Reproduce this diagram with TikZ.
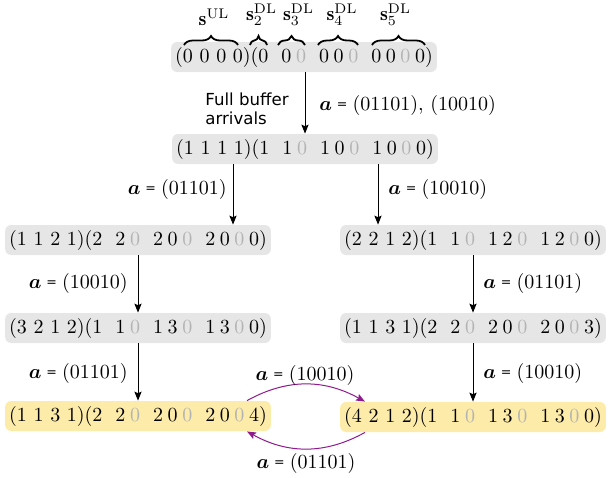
\documentclass[tikz,border=0pt]{standalone}
\usepackage{amsmath,bm}
\usepackage{fontspec}
\newfontfamily\dv{DejaVu Sans}
\usetikzlibrary{arrows.meta,decorations.pathreplacing,calc}
\definecolor{boxgray}{HTML}{E6E6E6}
\definecolor{boxyel}{HTML}{FDEBA9}
\definecolor{zgray}{HTML}{B3B3B3}
\definecolor{purp}{HTML}{8E1A8E}
\newcommand\gz{\textcolor{zgray}{0}}
\newcommand\ks{\hspace{2.3pt}}
\newcommand\kg{\hspace{6.5pt}}
\newcommand\av[1]{$\bm{a}$\hspace{2.4pt}\raisebox{0.6pt}{\dv\fontsize{6.3}{8}\selectfont =}\hspace{2.6pt}#1}
\tikzset{
  state/.style={fill=boxgray, rounded corners=3pt, inner xsep=2pt, inner ysep=2.5pt},
  ystate/.style={state, fill=boxyel},
  arr/.style={-{Stealth[length=4.5pt,width=3.6pt,inset=0.8pt]}, line width=0.5pt},
  parr/.style={arr, draw=purp, line width=0.5pt},
  lab/.style={inner sep=1pt},
  blab/.style={inner sep=0pt, anchor=south},
  brc/.style={decorate, decoration={brace, amplitude=4.5pt}, line width=0.9pt},
}
\begin{document}
\begin{tikzpicture}[x=0.5pt, y=-0.5pt]
\useasboundingbox (0,0) rectangle (608,477);
% states
\node[state] (n1) at (304,57) {(0 0 0 0)(0\kg 0\ks\gz\kg 0\ks 0\ks\gz\kg 0\ks 0\ks\gz\ks 0)};
\node[state] (n2) at (305,149) {(1 1 1 1)(1\kg 1\ks\gz\kg 1\ks 0\ks\gz\kg 1\ks 0\ks\gz\ks 0)};
\node[state] (n3) at (138,240) {(1 1 2 1)(2\kg 2\ks\gz\kg 2\ks 0\ks\gz\kg 2\ks 0\ks\gz\ks 0)};
\node[state] (n4) at (473,240) {(2 2 1 2)(1\kg 1\ks\gz\kg 1\ks 2\ks\gz\kg 1\ks 2\ks\gz\ks 0)};
\node[state] (n5) at (138,328) {(3 2 1 2)(1\kg 1\ks\gz\kg 1\ks 3\ks\gz\kg 1\ks 3\ks\gz\ks 0)};
\node[state] (n6) at (473,328) {(1 1 3 1)(2\kg 2\ks\gz\kg 2\ks 0\ks\gz\kg 2\ks 0\ks\gz\ks 3)};
\node[ystate] (n7) at (138,416) {(1 1 3 1)(2\kg 2\ks\gz\kg 2\ks 0\ks\gz\kg 2\ks 0\ks\gz\ks 4)};
\node[ystate] (n8) at (473,417) {(4 2 1 2)(1\kg 1\ks\gz\kg 1\ks 3\ks\gz\kg 1\ks 3\ks\gz\ks 0)};
% braces
\coordinate (b1a) at (184,45); \coordinate (b1b) at (238,45);
\coordinate (b2a) at (250,45); \coordinate (b2b) at (267,45);
\coordinate (b3a) at (278,45); \coordinate (b3b) at (305,45);
\coordinate (b4a) at (318,45); \coordinate (b4b) at (358,45);
\coordinate (b5a) at (372,45); \coordinate (b5b) at (425,45);
\draw[brc] (b1a) -- (b1b);
\draw[brc] (b2a) -- (b2b);
\draw[brc] (b3a) -- (b3b);
\draw[brc] (b4a) -- (b4b);
\draw[brc] (b5a) -- (b5b);
\node[blab] (l1) at ($(b1a)!0.5!(b1b)+(3,-19)$) {$\mathbf{s}^{\mathrm{UL}}$};
\node[blab] (l2) at ($(b2a)!0.5!(b2b)+(3,-19)$) {$\mathbf{s}_2^{\mathrm{DL}}$};
\node[blab] (l3) at ($(b3a)!0.5!(b3b)+(7,-19)$) {$\mathbf{s}_3^{\mathrm{DL}}$};
\node[blab] (l4) at ($(b4a)!0.5!(b4b)+(4,-19)$) {$\mathbf{s}_4^{\mathrm{DL}}$};
\node[blab] (l5) at ($(b5a)!0.5!(b5b)+(-3,-19)$) {$\mathbf{s}_5^{\mathrm{DL}}$};
% x positions for arrows
\coordinate (x1) at (305,0);
\coordinate (x2) at (233,0);
\coordinate (x3) at (378,0);
\coordinate (xl) at (138,0);
\coordinate (xr) at (473,0);
\draw[arr] (n1.south -| x1) -- (n2.north -| x1);
\draw[arr] (n2.south -| x2) -- (n3.north -| x2);
\draw[arr] (n2.south -| x3) -- (n4.north -| x3);
\draw[arr] (n3.south -| xl) -- (n5.north -| xl);
\draw[arr] (n5.south -| xl) -- (n7.north -| xl);
\draw[arr] (n4.south -| xr) -- (n6.north -| xr);
\draw[arr] (n6.south -| xr) -- (n8.north -| xr);
% arrow labels
\node[lab, align=left, anchor=west, font=\dv\fontsize{8.3}{9.2}\selectfont] (fb) at (203,109) {Full buffer\\arrivals};
\node[lab, anchor=west] (t1) at (317,105) {\av{(01101), (10010)}};
\node[lab, anchor=east] (t2) at (229,189) {\av{(01101)}};
\node[lab, anchor=west] (t3) at (386,189) {\av{(10010)}};
\node[lab, anchor=east] (t4) at (130,283) {\av{(10010)}};
\node[lab, anchor=west] (t5) at (481,283) {\av{(01101)}};
\node[lab, anchor=east] (t6) at (130,373) {\av{(01101)}};
\node[lab, anchor=west] (t7) at (481,373) {\av{(10010)}};
% purple loop
\coordinate (pl) at (247,0);
\coordinate (pr) at (365,0);
\draw[parr] (n7.north -| pl) to[out=29, in=151] (n8.north -| pr);
\draw[parr] (n8.south -| pr) to[out=-151, in=-29] (n7.south -| pl);
\node[lab] (t8) at (305,375) {\av{(10010)}};
\node[lab] (t9) at (306,463) {\av{(01101)}};
\end{tikzpicture}
\end{document}
